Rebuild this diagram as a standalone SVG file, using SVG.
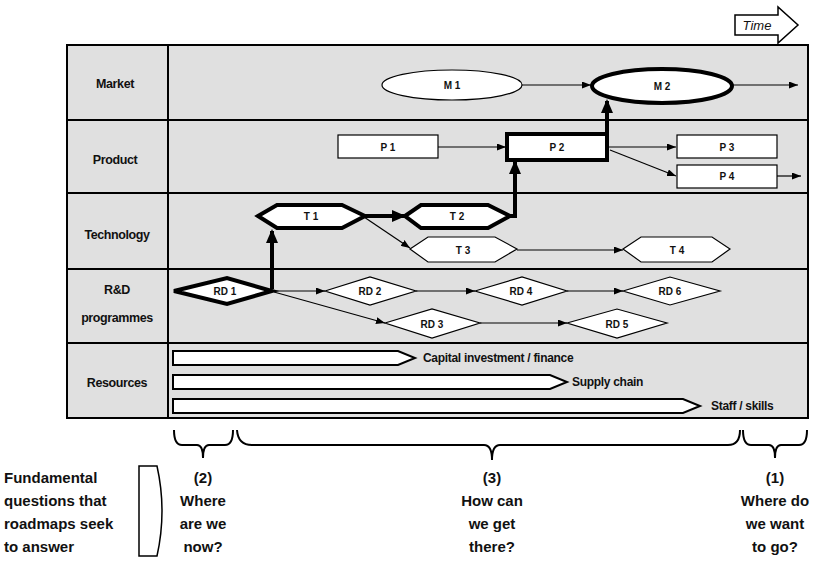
<svg xmlns="http://www.w3.org/2000/svg" width="813" height="564" viewBox="0 0 813 564">
<style>
.cell{fill:#e0e0e0;stroke:none}
.grid{stroke:#000;stroke-width:2;fill:none}
.rowlab{font-family:"Liberation Sans",Arial,sans-serif;font-weight:bold;font-size:12.5px;fill:#111;text-anchor:middle;letter-spacing:-0.4px}
.nlab{font-family:"Liberation Sans",Arial,sans-serif;font-weight:bold;font-size:10px;fill:#111;text-anchor:middle;dominant-baseline:central}
.node{fill:#fff;stroke:#000;stroke-width:1.2}
.nodeB{fill:#fff;stroke:#000;stroke-width:4}
.thin{stroke:#000;stroke-width:1.2;fill:none;marker-end:url(#ah)}
.thick{stroke:#000;stroke-width:4;fill:none;marker-end:url(#ahB)}
.bar{fill:#fff;stroke:#000;stroke-width:2}
.reslab{font-family:"Liberation Sans",Arial,sans-serif;font-weight:bold;font-size:12px;fill:#111;letter-spacing:-0.3px}
.q{font-family:"Liberation Sans",Arial,sans-serif;font-weight:bold;font-size:15px;fill:#111;text-anchor:middle}
.qs{font-family:"Liberation Sans",Arial,sans-serif;font-weight:bold;font-size:15px;fill:#111;text-anchor:start}
.brace{stroke:#000;stroke-width:2;fill:none}
</style>
<defs>
<marker id="ah" markerUnits="userSpaceOnUse" markerWidth="9" markerHeight="7" refX="9" refY="3.5" orient="auto"><path d="M0,0 L9,3.5 L0,7 z" fill="#000"/></marker>
<marker id="ahB" markerUnits="userSpaceOnUse" markerWidth="14" markerHeight="12" refX="12" refY="6" orient="auto"><path d="M0,0 L14,6 L0,12 z" fill="#000"/></marker>
</defs>
<rect width="813" height="564" fill="#fff"/>

<g id="time">
<path d="M735,15 H778 V7 L798,25 L778,43 V35 H735 Z" fill="#fff" stroke="#000" stroke-width="1.5"/>
<text x="757" y="30" font-family="Liberation Sans,Arial,sans-serif" font-style="italic" font-size="13" text-anchor="middle" fill="#111">Time</text>
</g>

<g id="table">
<rect class="cell" x="67" y="45" width="741" height="373"/>
<rect class="grid" x="67" y="45" width="741" height="373"/>
<line class="grid" x1="168" y1="45" x2="168" y2="418"/>
<line class="grid" x1="67" y1="120" x2="808" y2="120"/>
<line class="grid" x1="67" y1="193" x2="808" y2="193"/>
<line class="grid" x1="67" y1="269" x2="808" y2="269"/>
<line class="grid" x1="67" y1="343" x2="808" y2="343"/>
<text class="rowlab" x="115" y="88">Market</text>
<text class="rowlab" x="115" y="164">Product</text>
<text class="rowlab" x="117" y="239">Technology</text>
<text class="rowlab" x="117" y="294">R&amp;D</text>
<text class="rowlab" x="117" y="322">programmes</text>
<text class="rowlab" x="117" y="387">Resources</text>
</g>

<g id="connectors">
<path class="thin" d="M522,85 L591,85"/>
<path class="thin" d="M733,85 L798,85"/>
<path class="thin" d="M438,147 L506,147"/>
<path class="thin" d="M609,147 L676,147"/>
<path class="thin" d="M610,150 L676,176"/>
<path class="thin" d="M777,176 L801,176"/>
<path class="thin" d="M364,217 L410,248"/>
<path class="thin" d="M517,250 L623,250"/>
<path class="thin" d="M273,291 L325,291"/>
<path class="thin" d="M416,291 L475,291"/>
<path class="thin" d="M567,291 L623,291"/>
<path class="thin" d="M274,292 L385,323"/>
<path class="thin" d="M480,323 L567,323"/>
<path class="thick" d="M272,289 V231"/>
<path class="thick" d="M365,216 H404"/>
<path class="thick" d="M510,216 H515 V162"/>
<path class="thick" d="M607,133 V101"/>
</g>

<g id="M1"><ellipse class="node" cx="452" cy="85" rx="70" ry="15"/><text class="nlab" x="452" y="85">M 1</text></g>
<g id="M2"><ellipse class="nodeB" cx="662" cy="86" rx="70" ry="17"/><text class="nlab" x="662" y="86">M 2</text></g>
<g id="P1"><rect class="node" x="338" y="135" width="100" height="23"/><text class="nlab" x="388" y="147">P 1</text></g>
<g id="P2"><rect class="nodeB" x="507" y="134" width="100" height="26"/><text class="nlab" x="557" y="147">P 2</text></g>
<g id="P3"><rect class="node" x="677" y="135" width="100" height="23"/><text class="nlab" x="727" y="147">P 3</text></g>
<g id="P4"><rect class="node" x="677" y="165" width="100" height="23"/><text class="nlab" x="727" y="176">P 4</text></g>
<g id="T1"><polygon class="nodeB" points="258,216 277,205 342,205 365,216 342,228 277,228"/><text class="nlab" x="311" y="216">T 1</text></g>
<g id="T2"><polygon class="nodeB" points="405,216 421,205 488,205 510,216 488,228 421,228"/><text class="nlab" x="457" y="216">T 2</text></g>
<g id="T3"><polygon class="node" points="410,249 428,237 495,237 517,249 495,262 428,262"/><text class="nlab" x="463" y="250">T 3</text></g>
<g id="T4"><polygon class="node" points="623,249 641,237 712,237 730,249 712,262 641,262"/><text class="nlab" x="677" y="250">T 4</text></g>
<g id="RD1"><polygon class="nodeB" points="174,291 227,278 272,291 227,304"/><text class="nlab" x="225" y="291">RD 1</text></g>
<g id="RD2"><polygon class="node" points="325,291 370,277 416,291 370,305"/><text class="nlab" x="370" y="291">RD 2</text></g>
<g id="RD4"><polygon class="node" points="475,291 522,277 567,291 522,305"/><text class="nlab" x="521" y="291">RD 4</text></g>
<g id="RD6"><polygon class="node" points="623,291 670,277 720,291 670,305"/><text class="nlab" x="670" y="291">RD 6</text></g>
<g id="RD3"><polygon class="node" points="385,323 432,309 480,323 432,338"/><text class="nlab" x="432" y="324">RD 3</text></g>
<g id="RD5"><polygon class="node" points="567,323 617,309 667,323 617,338"/><text class="nlab" x="617" y="324">RD 5</text></g>

<g id="R1"><path class="bar" d="M173,351 H398 L415,358 L398,365 H173 Z"/><text class="reslab" x="423" y="362">Capital investment / finance</text></g>
<g id="R2"><path class="bar" d="M173,375 H550 L567,382 L550,389 H173 Z"/><text class="reslab" x="572" y="386">Supply chain</text></g>
<g id="R3"><path class="bar" d="M173,399 H683 L700,406 L683,413 H173 Z"/><text class="reslab" x="711" y="410">Staff / skills</text></g>

<g id="braces">
<path class="brace" d="M174,430 Q174,445 182,445 L197,445 Q203,445 203,458 Q203,445 209,445 L225,445 Q233,445 233,430"/>
<path class="brace" d="M237,430 Q238,445 252,445 L484,445 Q492,445 492,460 Q492,445 500,445 L728,445 Q740,445 740,430"/>
<path class="brace" d="M743,430 Q743,445 751,445 L769,445 Q775,445 775,458 Q775,445 781,445 L799,445 Q807,445 807,430"/>
</g>

<g id="questions">
<text class="qs" x="4" y="483">Fundamental</text>
<text class="qs" x="4" y="506">questions that</text>
<text class="qs" x="4" y="529">roadmaps seek</text>
<text class="qs" x="4" y="552">to answer</text>
<path d="M139,466 L157,466 Q167,511 157,556 L139,556 Z" fill="none" stroke="#000" stroke-width="1.5"/>
<text class="q" x="203" y="483">(2)</text>
<text class="q" x="203" y="506">Where</text>
<text class="q" x="203" y="529">are we</text>
<text class="q" x="203" y="552">now?</text>
<text class="q" x="492" y="483">(3)</text>
<text class="q" x="492" y="506">How can</text>
<text class="q" x="492" y="529">we get</text>
<text class="q" x="492" y="552">there?</text>
<text class="q" x="775" y="483">(1)</text>
<text class="q" x="775" y="506">Where do</text>
<text class="q" x="775" y="529">we want</text>
<text class="q" x="775" y="552">to go?</text>
</g>
</svg>
